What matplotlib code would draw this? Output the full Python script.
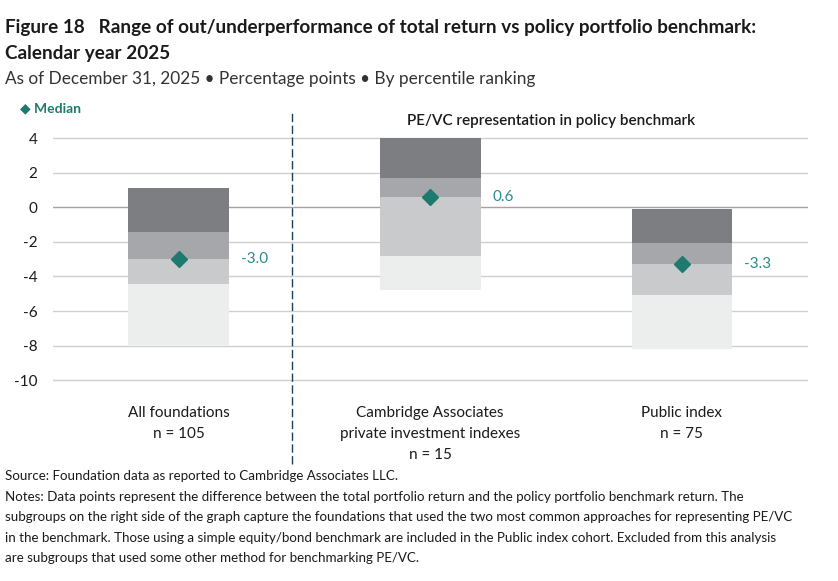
import matplotlib
matplotlib.use("Agg")
import matplotlib.pyplot as plt
import numpy as np

plt.rcParams['font.family'] = ['Lato', 'DejaVu Sans']

# ---- data ----
categories = ["All foundations\nn = 105",
              "Cambridge Associates\nprivate investment indexes\nn = 15",
              "Public index\nn = 75"]
p5 = [1.1, 4.0, -0.12]     # top of bar (5th percentile)
p25 = [-1.45, 1.72, -2.05]
median = [-3.0, 0.6, -3.3]
p75 = [-4.45, -2.82, -5.05]
p95 = [-7.98, -4.8, -8.2]  # bottom of bar
median_labels = ["-3.0", "0.6", "-3.3"]
yticks = [4, 2, 0, -2, -4, -6, -8, -10]

colors = ["#7c7e82", "#a6a7aa", "#c9cacc", "#eceeed"]
teal = "#1e7a6f"
label_teal = "#2a8a8c"

fig = plt.figure(figsize=(8.38, 5.81), dpi=100)
ax = fig.add_axes([0.0629, 0.3396, 0.901, 0.4286])

x = np.arange(len(categories))
w = 0.4
p5a, p25a, meda, p75a, p95a = map(np.array, (p5, p25, median, p75, p95))
ax.bar(x, p5a - p25a, bottom=p25a, width=w, color=colors[0], zorder=2)
ax.bar(x, p25a - meda, bottom=meda, width=w, color=colors[1], zorder=2)
ax.bar(x, meda - p75a, bottom=p75a, width=w, color=colors[2], zorder=2)
ax.bar(x, p75a - p95a, bottom=p95a, width=w, color=colors[3], zorder=2)
ax.plot(x, median, linestyle='none', marker='D', markersize=7.7,
        color=teal, zorder=4)
for xi, m, lab in zip(x, median, median_labels):
    ax.annotate(lab, (xi + w / 2, m), xytext=(8.5, 0), textcoords='offset points',
                ha='left', va='center', fontsize=11, color=label_teal)

ax.set_xlim(-0.5, 2.5)
ax.set_ylim(-10.2, 4.2)
ax.set_yticks(yticks)
ax.set_yticklabels([str(t) for t in yticks], fontsize=11, color="#1a1a1a")
ax.set_xticks(x)
ax.set_xticklabels(categories, fontsize=11, color="#1a1a1a", linespacing=1.62)
ax.tick_params(axis='y', length=0, pad=11)
ax.tick_params(axis='x', length=0, pad=16)
for s in ax.spines.values():
    s.set_visible(False)
for t in yticks:
    ax.axhline(t, color="#a3a3a3" if t == 0 else "#cfcfcf", lw=1, zorder=1)

ax.axvline(0.45, ymin=-0.323, ymax=1.087, color="#1d3f5e", lw=1,
           dashes=(6, 2.5), clip_on=False, zorder=3)

ax.text(1.48, 5.0, "PE/VC representation in policy benchmark", ha='center',
        va='center', fontsize=11, color="#1a1a1a", fontweight='semibold')

fig.text(0.024, 1 - 108 / 581, "\u25c6 Median", ha='left', va='center',
         fontsize=10, color=teal, fontweight='bold', family=['Lato', 'DejaVu Sans'])

fig.text(5 / 838, 1 - 27 / 581,
         "Figure 18   Range of out/underperformance of total return vs policy portfolio benchmark:",
         ha='left', va='center', fontsize=13.6, fontweight='bold', color="#1a1a1a")
fig.text(5 / 838, 1 - 53 / 581, "Calendar year 2025", ha='left', va='center',
         fontsize=13.6, fontweight='bold', color="#1a1a1a")
fig.text(5 / 838, 1 - 79 / 581,
         "As of December 31, 2025 \u2022 Percentage points \u2022 By percentile ranking",
         ha='left', va='center', fontsize=12.4, color="#333333")

notes = ("Source: Foundation data as reported to Cambridge Associates LLC.\n"
         "Notes: Data points represent the difference between the total portfolio return and the policy portfolio benchmark return. The\n"
         "subgroups on the right side of the graph capture the foundations that used the two most common approaches for representing PE/VC\n"
         "in the benchmark. Those using a simple equity/bond benchmark are included in the Public index cohort. Excluded from this analysis\n"
         "are subgroups that used some other method for benchmarking PE/VC.")
fig.text(5 / 838, 1 - 470 / 581, notes, ha='left', va='top', fontsize=9.65,
         color="#1a1a1a", linespacing=1.86)

fig.savefig("out.png", dpi=100)
